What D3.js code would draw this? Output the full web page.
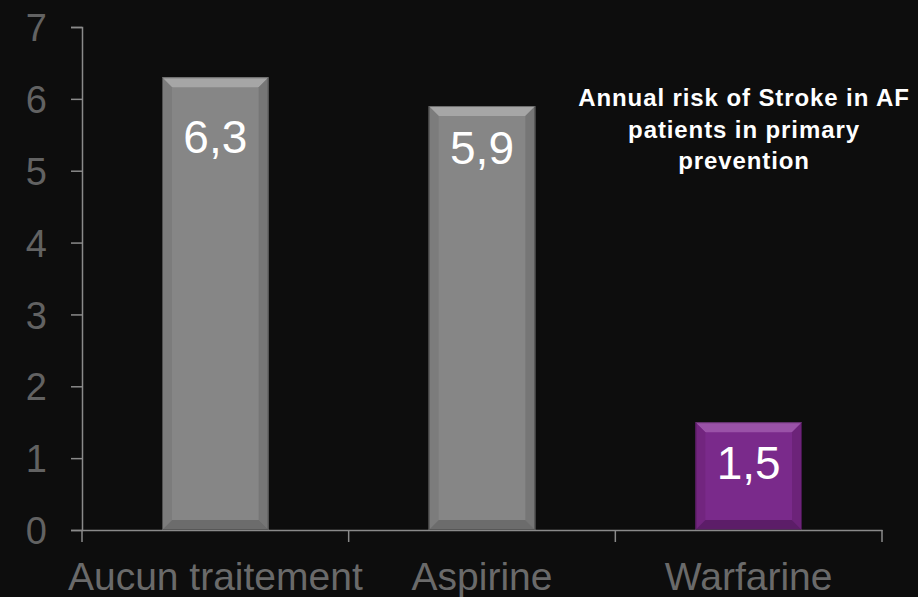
<!DOCTYPE html>
<html>
<head>
<meta charset="utf-8">
<script src="https://cdn.jsdelivr.net/npm/d3@7"></script>
<style>
  html, body { margin: 0; padding: 0; background: #0d0d0d; }
  svg { display: block; }
</style>
</head>
<body>
<div class="canvas"></div>
<script>
// data
const categories = ['Aucun traitement', 'Aspirine', 'Warfarine'];
const risks = [6.3, 5.9, 1.5];
const valueLabels = ['6,3', '5,9', '1,5'];
const yTicks = [0, 1, 2, 3, 4, 5, 6, 7];
const titleLines = ['Annual risk of Stroke in AF', 'patients in primary', 'prevention'];

const dims = { width: 918, height: 597 };
const margin = { left: 82, right: 36, top: 27, bottom: 67 };

const svg = d3.select('.canvas')
  .append('svg')
  .attr('width', dims.width)
  .attr('height', dims.height);

svg.append('rect')
  .attr('width', dims.width)
  .attr('height', dims.height)
  .attr('fill', '#0d0d0d');

const x = d3.scaleBand()
  .domain(categories)
  .range([margin.left, dims.width - margin.right])
  .paddingInner(0.6)
  .paddingOuter(0.3);

const y = d3.scaleLinear()
  .domain([0, 7])
  .range([dims.height - margin.bottom, margin.top]);

// colours per bar: face, top, sides, bottom
const palettes = [
  { face: '#868686', top: '#a6a6a6', left: '#7c7c7c', right: '#767676', bottom: '#6c6c6c' },
  { face: '#868686', top: '#a6a6a6', left: '#7c7c7c', right: '#767676', bottom: '#6c6c6c' },
  { face: '#7a2a8b', top: '#9a52a8', left: '#72257f', right: '#6c2379', bottom: '#5c1d68' }
];
// label offset below bar top (style only)
const labelDy = [76, 58, 57];

const bev = 10;
const bars = svg.append('g');

categories.forEach((c, i) => {
  const x0 = x(c), x1 = x(c) + x.bandwidth();
  const y0 = y(risks[i]), y1 = y(0);
  const p = palettes[i];
  const g = bars.append('g');

  g.append('rect')
    .attr('x', x0).attr('y', y0)
    .attr('width', x1 - x0).attr('height', y1 - y0)
    .attr('fill', p.face);

  const poly = (pts, fill) => g.append('polygon')
    .attr('points', pts.map(d => d.join(',')).join(' '))
    .attr('fill', fill);

  poly([[x0, y0], [x1, y0], [x1 - bev, y0 + bev], [x0 + bev, y0 + bev]], p.top);
  poly([[x0, y0], [x0 + bev, y0 + bev], [x0 + bev, y1 - bev], [x0, y1]], p.left);
  poly([[x1, y0], [x1, y1], [x1 - bev, y1 - bev], [x1 - bev, y0 + bev]], p.right);
  poly([[x0, y1], [x0 + bev, y1 - bev], [x1 - bev, y1 - bev], [x1, y1]], p.bottom);

  g.append('rect')
    .attr('x', x0 + 0.5).attr('y', y0 + 0.5)
    .attr('width', x1 - x0 - 1).attr('height', y1 - y0 - 1)
    .attr('fill', 'none')
    .attr('stroke', 'rgba(0,0,0,0.35)')
    .attr('stroke-width', 1);

  g.append('text')
    .attr('x', (x0 + x1) / 2)
    .attr('y', y0 + labelDy[i])
    .attr('text-anchor', 'middle')
    .attr('fill', '#ffffff')
    .attr('font-family', 'Liberation Sans, Arial, sans-serif')
    .attr('font-size', 46)
    .text(valueLabels[i]);
});

// y axis
const yAxis = d3.axisLeft(y)
  .tickValues(yTicks)
  .tickSize(11)
  .tickPadding(24)
  .tickFormat(d3.format('d'));

const yG = svg.append('g')
  .attr('transform', `translate(${margin.left},0)`)
  .call(yAxis);
yG.select('.domain').attr('stroke', '#8a8a8a').attr('stroke-width', 1.5);
yG.selectAll('.tick line').attr('stroke', '#8a8a8a').attr('stroke-width', 1.5);
yG.selectAll('.tick text')
  .attr('fill', '#626262')
  .attr('font-family', 'Liberation Sans, Arial, sans-serif')
  .attr('font-size', 38)
  .attr('dy', '0.36em');

// x axis
const xAxis = d3.axisBottom(x).tickSize(0).tickPadding(30);
const xG = svg.append('g')
  .attr('transform', `translate(0,${y(0)})`)
  .call(xAxis);
xG.select('.domain').attr('stroke', '#8a8a8a').attr('stroke-width', 1.5);
xG.selectAll('.tick text')
  .attr('fill', '#6a6a6a')
  .attr('font-family', 'Liberation Sans, Arial, sans-serif')
  .attr('font-size', 39)
  .attr('y', 0)
  .attr('dy', 60);

// category boundary ticks
const bounds = categories.map(c => x(c) - x.step() * x.paddingInner() / 2)
  .concat([x(categories[2]) + x.bandwidth() + x.step() * x.paddingInner() / 2]);
bounds[0] = margin.left;
svg.append('g').selectAll('line')
  .data(bounds)
  .join('line')
  .attr('x1', d => d).attr('x2', d => d)
  .attr('y1', y(0)).attr('y2', y(0) + 12)
  .attr('stroke', '#8a8a8a')
  .attr('stroke-width', 1.5);

// annotation
const note = svg.append('text')
  .attr('x', 744)
  .attr('y', 106)
  .attr('text-anchor', 'middle')
  .attr('fill', '#ffffff')
  .attr('font-family', 'Liberation Sans, Arial, sans-serif')
  .attr('font-weight', 'bold')
  .attr('font-size', 24)
  .attr('letter-spacing', 0.9);
note.selectAll('tspan')
  .data(titleLines)
  .join('tspan')
  .attr('x', 744)
  .attr('dy', (d, i) => i === 0 ? 0 : 31.5)
  .text(d => d);
</script>
</body>
</html>
